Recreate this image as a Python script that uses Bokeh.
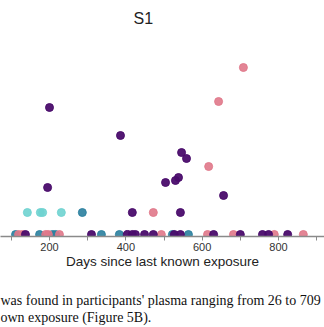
from bokeh.plotting import figure
from bokeh.models import Range1d, FixedTicker, Title
from bokeh.embed import file_html
from bokeh.resources import INLINE

# Days since last known exposure / S1 level (arbitrary units) per group
purple_days = [137, 310, 404, 417, 425, 449, 472, 527, 543, 630, 700, 758, 774, 824,
               417, 543, 200, 386, 546, 559, 538, 530, 504, 195, 656]
purple_level = [0.1, 0.1, 0.1, 0.1, 0.1, 0.1, 0.1, 0.1, 0.1, 0.1, 0.1, 0.1, 0.1, 0.1,
                1.2, 1.2, 6.45, 5.05, 4.2, 3.9, 2.95, 2.8, 2.7, 2.45, 2.05]
pink_days = [119, 129, 190, 197, 226, 493, 614, 682, 789, 865, 472, 617, 643, 708]
pink_level = [0.1, 0.1, 0.1, 0.1, 0.1, 0.1, 0.1, 0.1, 0.1, 0.1, 1.2, 3.5, 6.75, 8.45]
cyan_days = [142, 176, 182, 231]
cyan_level = [1.2, 1.2, 1.2, 1.2]
teal_days = [111, 174, 208, 216, 336, 383, 522, 564, 286]
teal_level = [0.1, 0.1, 0.1, 0.1, 0.1, 0.1, 0.1, 0.1, 1.2]

major_ticks = [200, 400, 600, 800]
minor_ticks = [100, 300, 500, 700, 900]

title_text = "S1"
x_label = "Days since last known exposure"
caption_1 = "was found in participants' plasma ranging from 26 to 709"
caption_2 = "own exposure (Figure 5B)."

p = figure(width=324, height=327, output_backend="svg", toolbar_location=None,
           x_range=Range1d(71.6, 920.5), y_range=Range1d(0, 10.3),
           y_axis_location=None, min_border_left=0, min_border_right=0,
           min_border_top=30, min_border_bottom=91)
p.outline_line_color = None
p.grid.visible = False
p.background_fill_color = "white"
p.border_fill_color = "white"

p.title.text = title_text
p.title.align = "left"
p.title.offset = 133
p.title.text_font = "Liberation Sans"
p.title.text_font_style = "normal"
p.title.text_font_size = "16px"
p.title.text_color = "#222222"
p.title.standoff = 7

ax = p.xaxis[0]
ax.ticker = FixedTicker(ticks=major_ticks, minor_ticks=minor_ticks)
ax.axis_line_color = "#8a8a8a"
ax.axis_line_width = 1.5
ax.major_tick_line_color = "#8a8a8a"
ax.minor_tick_line_color = "#8a8a8a"
ax.major_tick_in = 0
ax.major_tick_out = 4
ax.minor_tick_in = 0
ax.minor_tick_out = 4
ax.major_label_text_font = "Liberation Sans"
ax.major_label_text_font_size = "11px"
ax.major_label_text_color = "#333333"
ax.major_label_standoff = 2
ax.axis_label = x_label
ax.axis_label_text_font = "Liberation Sans"
ax.axis_label_text_font_style = "normal"
ax.axis_label_text_font_size = "13.5px"
ax.axis_label_text_color = "#222222"
ax.axis_label_standoff = 0

size = 8
p.scatter(teal_days, teal_level, size=size, color="#2a7f9e", alpha=0.9)
p.scatter(cyan_days, cyan_level, size=size, color="#6fd3d0", alpha=0.9)
p.scatter(pink_days, pink_level, size=size, color="#e07889", alpha=0.9)
p.scatter(purple_days, purple_level, size=size, color="#4a0c6b", alpha=0.95)

# spacer between axis label and caption
p.add_layout(Title(text=" ", text_font_size="1px", standoff=16), "below")
for txt in [caption_1, caption_2]:
    p.add_layout(Title(text=txt, align="left", offset=0, standoff=0,
                       text_font="Liberation Serif", text_font_size="14px",
                       text_font_style="normal", text_color="#111111"), "below")

open("out.html", "w").write(file_html(p, INLINE))
